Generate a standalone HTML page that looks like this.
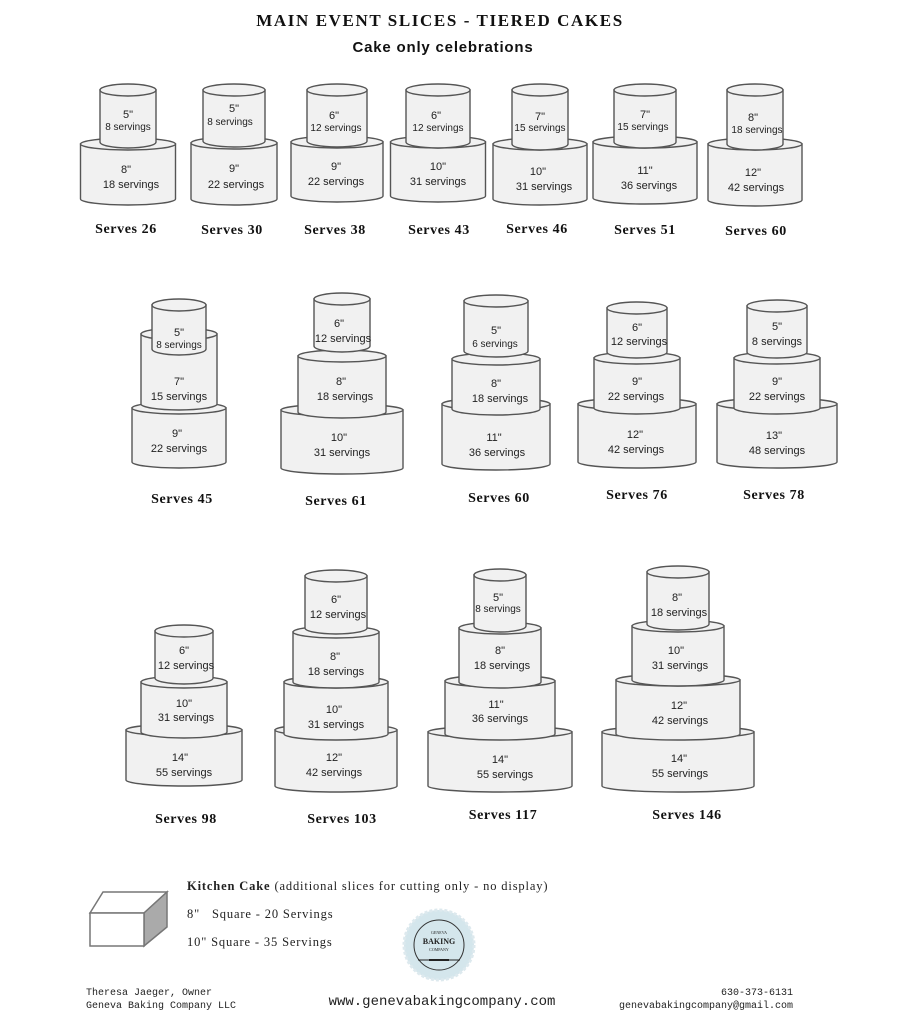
<!DOCTYPE html>
<html><head><meta charset="utf-8"><style>
html,body{margin:0;padding:0;background:#fff}
svg{display:block}
.t path,.t ellipse{fill:#f1f1f1;stroke:#555;stroke-width:1.4}
.l{font-family:"Liberation Sans",sans-serif;font-size:11px;fill:#222;text-anchor:middle}
.s{font-family:"Liberation Serif",serif;font-weight:bold;font-size:14px;letter-spacing:0.6px;fill:#111;text-anchor:middle}
.f{font-family:"Liberation Mono","Liberation Serif",serif;font-size:10px;fill:#222}
.k{font-family:"Liberation Serif",serif;font-size:12.5px;letter-spacing:0.85px;fill:#222}
</style></head><body>
<svg width="907" height="1024" viewBox="0 0 907 1024" xmlns="http://www.w3.org/2000/svg">
<text x="440" y="26" font-family="Liberation Serif,serif" font-weight="bold" font-size="17" letter-spacing="1.6" text-anchor="middle" fill="#111">MAIN EVENT SLICES - TIERED CAKES</text>
<text x="443" y="52" font-family="Liberation Sans,sans-serif" font-weight="bold" font-size="15" letter-spacing="0.8" text-anchor="middle" fill="#111">Cake only celebrations</text>
<g class="t">
<path d="M80.5 144V199A47.5 6 0 0 0 175.5 199V144Z"/><ellipse cx="128" cy="144" rx="47.5" ry="6"/>
<path d="M100 90V142A28 6 0 0 0 156 142V90Z"/><ellipse cx="128" cy="90" rx="28" ry="6"/>
<path d="M191 143V199A43 6 0 0 0 277 199V143Z"/><ellipse cx="234" cy="143" rx="43" ry="6"/>
<path d="M203 90V141A31 6 0 0 0 265 141V90Z"/><ellipse cx="234" cy="90" rx="31" ry="6"/>
<path d="M291 142V196A46 6 0 0 0 383 196V142Z"/><ellipse cx="337" cy="142" rx="46" ry="6"/>
<path d="M307 90V141A30 6 0 0 0 367 141V90Z"/><ellipse cx="337" cy="90" rx="30" ry="6"/>
<path d="M390.5 142V196A47.5 6 0 0 0 485.5 196V142Z"/><ellipse cx="438" cy="142" rx="47.5" ry="6"/>
<path d="M406 90V142A32 6 0 0 0 470 142V90Z"/><ellipse cx="438" cy="90" rx="32" ry="6"/>
<path d="M493 144V199A47 6 0 0 0 587 199V144Z"/><ellipse cx="540" cy="144" rx="47" ry="6"/>
<path d="M512 90V144A28 6 0 0 0 568 144V90Z"/><ellipse cx="540" cy="90" rx="28" ry="6"/>
<path d="M593 142V198A52 6 0 0 0 697 198V142Z"/><ellipse cx="645" cy="142" rx="52" ry="6"/>
<path d="M614 90V142A31 6 0 0 0 676 142V90Z"/><ellipse cx="645" cy="90" rx="31" ry="6"/>
<path d="M708 144V200A47 6 0 0 0 802 200V144Z"/><ellipse cx="755" cy="144" rx="47" ry="6"/>
<path d="M727 90V144A28 6 0 0 0 783 144V90Z"/><ellipse cx="755" cy="90" rx="28" ry="6"/>
<path d="M132 408V462A47 6 0 0 0 226 462V408Z"/><ellipse cx="179" cy="408" rx="47" ry="6"/>
<path d="M141 334V404A38 6 0 0 0 217 404V334Z"/><ellipse cx="179" cy="334" rx="38" ry="6"/>
<path d="M152 305V349A27 6 0 0 0 206 349V305Z"/><ellipse cx="179" cy="305" rx="27" ry="6"/>
<path d="M281 410V468A61 6 0 0 0 403 468V410Z"/><ellipse cx="342" cy="410" rx="61" ry="6"/>
<path d="M298 356V412A44 6 0 0 0 386 412V356Z"/><ellipse cx="342" cy="356" rx="44" ry="6"/>
<path d="M314 299V346A28 6 0 0 0 370 346V299Z"/><ellipse cx="342" cy="299" rx="28" ry="6"/>
<path d="M442 404V464A54 6 0 0 0 550 464V404Z"/><ellipse cx="496" cy="404" rx="54" ry="6"/>
<path d="M452 359V409A44 6 0 0 0 540 409V359Z"/><ellipse cx="496" cy="359" rx="44" ry="6"/>
<path d="M464 301V351A32 6 0 0 0 528 351V301Z"/><ellipse cx="496" cy="301" rx="32" ry="6"/>
<path d="M578 404V462A59 6 0 0 0 696 462V404Z"/><ellipse cx="637" cy="404" rx="59" ry="6"/>
<path d="M594 358V408A43 6 0 0 0 680 408V358Z"/><ellipse cx="637" cy="358" rx="43" ry="6"/>
<path d="M607 308V352A30 6 0 0 0 667 352V308Z"/><ellipse cx="637" cy="308" rx="30" ry="6"/>
<path d="M717 404V462A60 6 0 0 0 837 462V404Z"/><ellipse cx="777" cy="404" rx="60" ry="6"/>
<path d="M734 358V408A43 6 0 0 0 820 408V358Z"/><ellipse cx="777" cy="358" rx="43" ry="6"/>
<path d="M747 306V352A30 6 0 0 0 807 352V306Z"/><ellipse cx="777" cy="306" rx="30" ry="6"/>
<path d="M126 730V780A58 6 0 0 0 242 780V730Z"/><ellipse cx="184" cy="730" rx="58" ry="6"/>
<path d="M141 682V732A43 6 0 0 0 227 732V682Z"/><ellipse cx="184" cy="682" rx="43" ry="6"/>
<path d="M155 631V678A29 6 0 0 0 213 678V631Z"/><ellipse cx="184" cy="631" rx="29" ry="6"/>
<path d="M275 730V786A61 6 0 0 0 397 786V730Z"/><ellipse cx="336" cy="730" rx="61" ry="6"/>
<path d="M284 682V734A52 6 0 0 0 388 734V682Z"/><ellipse cx="336" cy="682" rx="52" ry="6"/>
<path d="M293 632V682A43 6 0 0 0 379 682V632Z"/><ellipse cx="336" cy="632" rx="43" ry="6"/>
<path d="M305 576V628A31 6 0 0 0 367 628V576Z"/><ellipse cx="336" cy="576" rx="31" ry="6"/>
<path d="M428 732V786A72 6 0 0 0 572 786V732Z"/><ellipse cx="500" cy="732" rx="72" ry="6"/>
<path d="M445 681V734A55 6 0 0 0 555 734V681Z"/><ellipse cx="500" cy="681" rx="55" ry="6"/>
<path d="M459 628V682A41 6 0 0 0 541 682V628Z"/><ellipse cx="500" cy="628" rx="41" ry="6"/>
<path d="M474 575V626A26 6 0 0 0 526 626V575Z"/><ellipse cx="500" cy="575" rx="26" ry="6"/>
<path d="M602 732V786A76 6 0 0 0 754 786V732Z"/><ellipse cx="678" cy="732" rx="76" ry="6"/>
<path d="M616 680V734A62 6 0 0 0 740 734V680Z"/><ellipse cx="678" cy="680" rx="62" ry="6"/>
<path d="M632 626V680A46 6 0 0 0 724 680V626Z"/><ellipse cx="678" cy="626" rx="46" ry="6"/>
<path d="M647 572V624A31 6 0 0 0 709 624V572Z"/><ellipse cx="678" cy="572" rx="31" ry="6"/>
</g>
<g class="l">
<text x="128" y="118">5"</text><text x="128" y="130" font-size="10">8 servings</text>
<text x="126" y="173">8"</text><text x="131" y="188">18 servings</text>
<text x="234" y="112">5"</text><text x="230" y="125" font-size="10">8 servings</text>
<text x="234" y="172">9"</text><text x="236" y="188">22 servings</text>
<text x="334" y="119">6"</text><text x="336" y="131" font-size="10">12 servings</text>
<text x="336" y="170">9"</text><text x="336" y="185">22 servings</text>
<text x="436" y="119">6"</text><text x="438" y="131" font-size="10">12 servings</text>
<text x="438" y="170">10"</text><text x="438" y="185">31 servings</text>
<text x="540" y="120">7"</text><text x="540" y="131" font-size="10">15 servings</text>
<text x="538" y="175">10"</text><text x="544" y="190">31 servings</text>
<text x="645" y="118">7"</text><text x="643" y="130" font-size="10">15 servings</text>
<text x="645" y="174">11"</text><text x="649" y="189">36 servings</text>
<text x="753" y="121">8"</text><text x="757" y="133" font-size="10">18 servings</text>
<text x="753" y="176">12"</text><text x="756" y="191">42 servings</text>
<text x="179" y="336">5"</text><text x="179" y="348" font-size="10">8 servings</text>
<text x="179" y="385">7"</text><text x="179" y="400">15 servings</text>
<text x="177" y="437">9"</text><text x="179" y="452">22 servings</text>
<text x="339" y="327">6"</text><text x="343" y="342">12 servings</text>
<text x="341" y="385">8"</text><text x="345" y="400">18 servings</text>
<text x="339" y="441">10"</text><text x="342" y="456">31 servings</text>
<text x="496" y="334">5"</text><text x="495" y="347" font-size="10">6 servings</text>
<text x="496" y="387">8"</text><text x="500" y="402">18 servings</text>
<text x="494" y="441">11"</text><text x="497" y="456">36 servings</text>
<text x="637" y="331">6"</text><text x="639" y="345">12 servings</text>
<text x="637" y="385">9"</text><text x="636" y="400">22 servings</text>
<text x="635" y="438">12"</text><text x="636" y="453">42 servings</text>
<text x="777" y="330">5"</text><text x="777" y="345">8 servings</text>
<text x="777" y="385">9"</text><text x="777" y="400">22 servings</text>
<text x="774" y="439">13"</text><text x="777" y="454">48 servings</text>
<text x="184" y="654">6"</text><text x="186" y="669">12 servings</text>
<text x="184" y="707">10"</text><text x="186" y="721">31 servings</text>
<text x="180" y="761">14"</text><text x="184" y="776">55 servings</text>
<text x="336" y="603">6"</text><text x="338" y="618">12 servings</text>
<text x="335" y="660">8"</text><text x="336" y="675">18 servings</text>
<text x="334" y="713">10"</text><text x="336" y="728">31 servings</text>
<text x="334" y="761">12"</text><text x="334" y="776">42 servings</text>
<text x="498" y="601">5"</text><text x="498" y="612" font-size="10">8 servings</text>
<text x="500" y="654">8"</text><text x="502" y="669">18 servings</text>
<text x="496" y="708">11"</text><text x="500" y="722">36 servings</text>
<text x="500" y="763">14"</text><text x="505" y="778">55 servings</text>
<text x="677" y="601">8"</text><text x="679" y="616">18 servings</text>
<text x="676" y="654">10"</text><text x="680" y="669">31 servings</text>
<text x="679" y="709">12"</text><text x="680" y="724">42 servings</text>
<text x="679" y="762">14"</text><text x="680" y="777">55 servings</text>
</g>
<g class="s">
<text x="126" y="233">Serves 26</text><text x="232" y="234">Serves 30</text><text x="335" y="234">Serves 38</text>
<text x="439" y="234">Serves 43</text><text x="537" y="233">Serves 46</text><text x="645" y="234">Serves 51</text>
<text x="756" y="235">Serves 60</text>
<text x="182" y="503">Serves 45</text><text x="336" y="505">Serves 61</text><text x="499" y="502">Serves 60</text>
<text x="637" y="499">Serves 76</text><text x="774" y="499">Serves 78</text>
<text x="186" y="823">Serves 98</text><text x="342" y="823">Serves 103</text><text x="503" y="819">Serves 117</text>
<text x="687" y="819">Serves 146</text>
</g>
<polygon points="90,913 103,892 167,892 144,913" fill="#fff" stroke="#777" stroke-width="1.5"/>
<polygon points="144,913 167,892 167,927 144,946" fill="#aaa" stroke="#777" stroke-width="1.5"/>
<rect x="90" y="913" width="54" height="33" fill="#fff" stroke="#777" stroke-width="1.5"/>
<text x="187" y="890" class="k"><tspan font-weight="bold">Kitchen Cake</tspan> (additional slices for cutting only - no display)</text>
<text x="187" y="918" class="k">8"&#160;&#160; Square - 20 Servings</text>
<text x="187" y="946" class="k">10" Square - 35 Servings</text>
<circle cx="439" cy="945" r="35" fill="#d4e6ec" stroke="#dde9ee" stroke-width="3" stroke-dasharray="3 2"/>
<circle cx="439" cy="945" r="25" fill="none" stroke="#333" stroke-width="1"/>
<text x="439" y="934" font-family="Liberation Serif,serif" font-size="4" text-anchor="middle" fill="#222">GENEVA</text>
<text x="439" y="944" font-family="Liberation Serif,serif" font-weight="bold" font-size="8" text-anchor="middle" fill="#222">BAKING</text>
<text x="439" y="951" font-family="Liberation Serif,serif" font-size="4" text-anchor="middle" fill="#222">COMPANY</text>
<line x1="418" y1="960" x2="460" y2="960" stroke="#222" stroke-width="1"/>
<rect x="429" y="959" width="20" height="2" fill="#222"/>
<text x="86" y="995" class="f">Theresa Jaeger, Owner</text>
<text x="86" y="1008" class="f">Geneva Baking Company LLC</text>
<text x="442" y="1005" font-family="Liberation Mono,serif" font-size="14" text-anchor="middle" fill="#222">www.genevabakingcompany.com</text>
<text x="793" y="995" class="f" text-anchor="end">630-373-6131</text>
<text x="793" y="1008" class="f" text-anchor="end">genevabakingcompany@gmail.com</text>
</svg>
</body></html>
